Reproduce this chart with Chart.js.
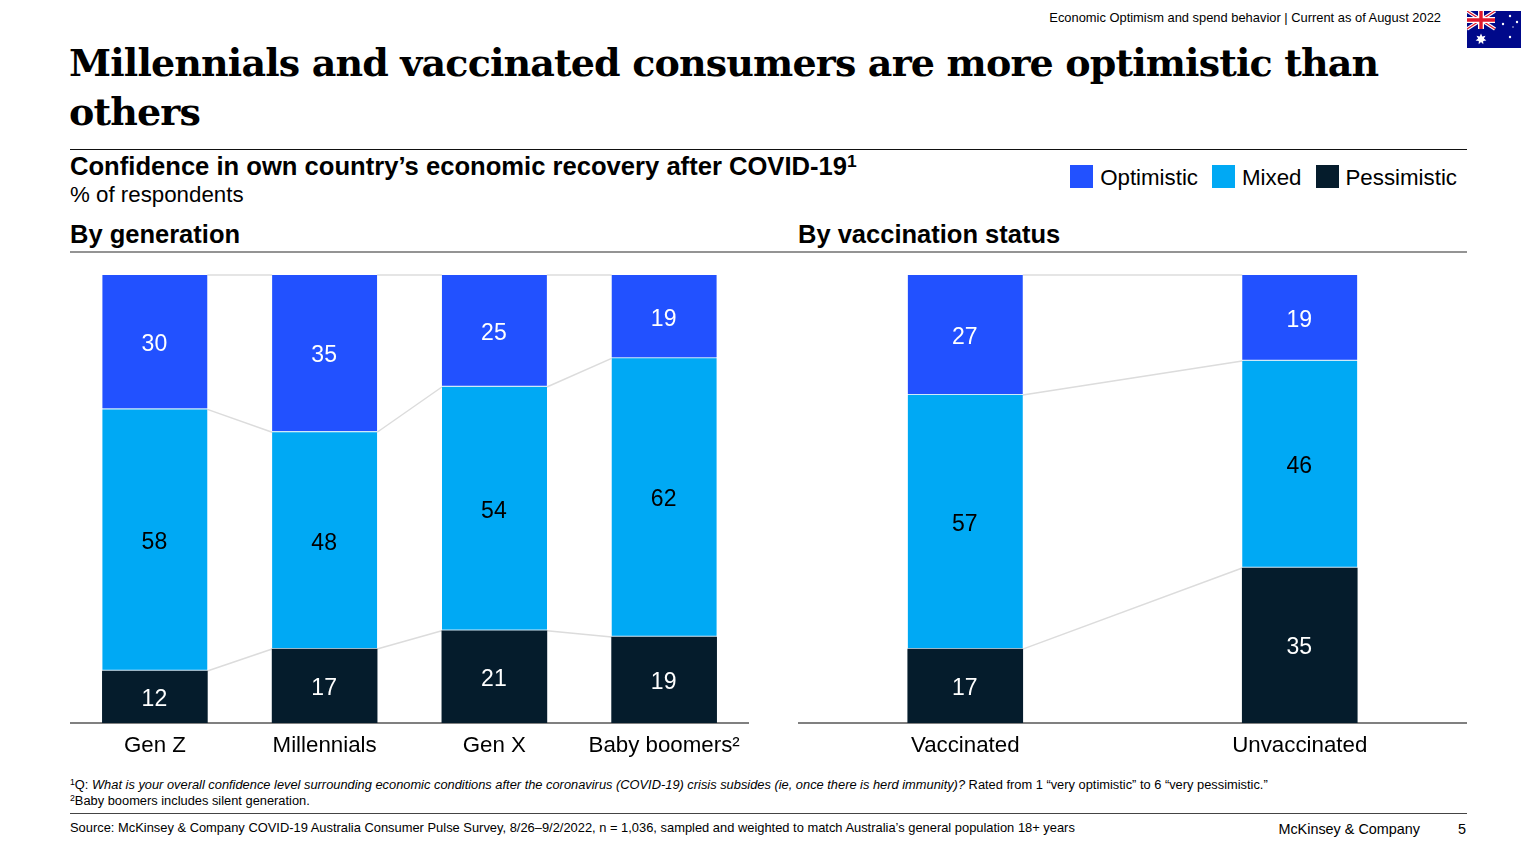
<!DOCTYPE html>
<html>
<head>
<meta charset="utf-8">
<script src="https://cdn.jsdelivr.net/npm/chart.js@4"></script>
<style>
	html, body {margin: 0; padding: 0; background: #fff;}
	body {position: relative; width: 1536px; height: 864px; overflow: hidden; font-family: "Liberation Sans", Arial, sans-serif; color: #000;}
	.txt {position: absolute; white-space: nowrap;}
	.rule {position: absolute; left: 70px; width: 1397px;}
	canvas {position: absolute;}
	sup {font-size: 68%; line-height: 0; vertical-align: baseline; position: relative; top: -0.45em;}
	#legend {position: absolute; top: 166px; right: 79px; display: flex; font-size: 22.3px; line-height: 24px;}
	#legend span.item {display: flex; align-items: center; margin-left: 14px;}
	#legend i {display: inline-block; width: 23px; height: 23px; margin-right: 7px; position: relative; top: -2px;}
</style>
</head>
<body>
<div class="txt" style="right:95px;top:10px;font-size:12.9px;line-height:16px;">Economic Optimism and spend behavior | Current as of August 2022</div>
<svg style="position:absolute;left:1467px;top:11px;" width="54" height="37" viewBox="0 0 54 37">
	<rect width="54" height="37" fill="#00098a"/>
	<path d="M0 0L28 18M28 0L0 18" stroke="#fff" stroke-width="3.5"/>
	<path d="M0 0L28 18M28 0L0 18" stroke="#e0192d" stroke-width="1.2"/>
	<path d="M14 0V18M0 9H28" stroke="#fff" stroke-width="6"/>
	<path d="M14 0V18M0 9H28" stroke="#e0192d" stroke-width="3.4"/>
	<g fill="#fff">
		<path d="M14 22.5l1.3 3 3.2-.8-1.6 2.9 2.5 2-3.2.5.1 3.2-2.3-2.3-2.3 2.3.1-3.2-3.2-.5 2.5-2-1.6-2.9 3.2.8z"/>
		<circle cx="43" cy="5" r="1.2"/><circle cx="36" cy="13" r="1.2"/>
		<circle cx="50" cy="11" r="1.2"/><circle cx="43" cy="26" r="1.2"/><circle cx="46" cy="16" r="0.7"/>
	</g>
</svg>
<div id="title" class="txt" style="left:69px;top:38px;font-family:'DejaVu Serif',serif;font-weight:bold;font-size:38px;line-height:49px;letter-spacing:-0.85px;">Millennials and vaccinated consumers are more optimistic than<br>others</div>
<div class="rule" style="top:149px;height:1px;background:#111;"></div>
<div class="txt" style="left:70px;top:151px;font-size:25.6px;line-height:30px;font-weight:bold;">Confidence in own country’s economic recovery after COVID-19<sup>1</sup></div>
<div class="txt" style="left:70px;top:181px;font-size:22.3px;line-height:27px;">% of respondents</div>
<div id="legend"></div>
<div class="txt" style="left:70px;top:219px;font-size:25.5px;line-height:30px;font-weight:bold;">By generation</div>
<div class="txt" style="left:798px;top:219px;font-size:25.5px;line-height:30px;font-weight:bold;">By vaccination status</div>
<div class="rule" style="top:251px;height:2px;background:#949494;"></div>
<canvas id="genChart" style="left:70px;top:265px;"></canvas>
<canvas id="vacChart" style="left:798px;top:265px;"></canvas>
<div class="txt" style="left:70px;top:777px;font-size:12.85px;line-height:16px;"><sup>1</sup>Q: <em>What is your overall confidence level surrounding economic conditions after the coronavirus (COVID-19) crisis subsides (ie, once there is herd immunity)?</em> Rated from 1 “very optimistic” to 6 “very pessimistic.”</div>
<div class="txt" style="left:70px;top:793px;font-size:12.85px;line-height:16px;"><sup>2</sup>Baby boomers includes silent generation.</div>
<div class="rule" style="top:813px;height:1px;background:#444;"></div>
<div class="txt" style="left:70px;top:820px;font-size:12.9px;line-height:16px;">Source: McKinsey &amp; Company COVID-19 Australia Consumer Pulse Survey, 8/26–9/2/2022, n = 1,036, sampled and weighted to match Australia’s general population 18+ years</div>
<div class="txt" style="right:116px;top:821px;font-size:14.4px;line-height:17px;">McKinsey &amp; Company</div>
<div class="txt" style="right:70px;top:821px;font-size:14.4px;line-height:17px;">5</div>
<script>
'use strict';

const seriesNames = ['Pessimistic', 'Mixed', 'Optimistic'];
const seriesColours = ['#051C2C', '#00A9F4', '#2251FF'];
const labelColours = ['#fff', '#000', '#fff'];

//unrounded shares, they round to the printed labels
const genCategories = ['Gen Z', 'Millennials', 'Gen X', 'Baby boomers²'];
const genPessimistic = [11.6, 16.5, 20.6, 19.2];
const genMixed = [58.4, 48.4, 54.4, 62.2];
const genOptimistic = [30.0, 35.1, 25.0, 18.6];

const vacCategories = ['Vaccinated', 'Unvaccinated'];
const vacPessimistic = [16.5, 34.6];
const vacMixed = [56.7, 46.2];
const vacOptimistic = [26.8, 19.2];

const FONT = '"Liberation Sans", Arial, sans-serif';

/** Draws the rounded value in the middle of each bar segment. */
const segmentLabels = {
	id: 'segmentLabels',
	afterDatasetsDraw: chart => {
		const {ctx} = chart;
		ctx.save();
		ctx.font = `23px ${FONT}`;
		ctx.textAlign = 'center';
		ctx.textBaseline = 'middle';
		chart.data.datasets.forEach((dataset, dsIdx) => {
			chart.getDatasetMeta(dsIdx).data.forEach((bar, idx) => {
				ctx.fillStyle = labelColours[dsIdx];
				ctx.fillText(Math.round(dataset.data[idx]), bar.x - 0.5, (bar.y + bar.base) / 2 + 2.5);
			});
		});
		ctx.restore();
	}
};

/** Draws the thin connectors between the segment tops of neighbouring bars. */
const connectors = {
	id: 'connectors',
	beforeDatasetsDraw: chart => {
		const {ctx} = chart;
		ctx.save();
		ctx.strokeStyle = '#dcdcdc';
		ctx.lineWidth = 1.5;
		chart.data.datasets.forEach((dataset, dsIdx) => {
			const bars = chart.getDatasetMeta(dsIdx).data;
			for (let idx = 0; idx < bars.length - 1; ++idx) {
				ctx.beginPath();
				ctx.moveTo(bars[idx].x + bars[idx].width / 2, bars[idx].y);
				ctx.lineTo(bars[idx + 1].x - bars[idx + 1].width / 2, bars[idx + 1].y);
				ctx.stroke();
			}
		});
		ctx.restore();
	}
};

function buildChart(id, categories, values, width, barWidth) {
	const canvas = document.getElementById(id);
	canvas.width = width;
	canvas.height = 503;
	canvas.style.width = width + 'px';
	canvas.style.height = '503px';
	return new Chart(canvas, {
		type: 'bar',
		data: {
			labels: categories,
			datasets: values.map((data, idx) => ({
				label: seriesNames[idx],
				data: data,
				backgroundColor: seriesColours[idx],
				borderColor: '#cfe9f8',
				borderWidth: idx ? {bottom: 1.5} : 0,
				borderSkipped: false,
				barThickness: barWidth
			}))
		},
		options: {
			animation: false,
			responsive: false,
			devicePixelRatio: 1,
			layout: {padding: {top: 10}},
			plugins: {legend: {display: false}, tooltip: {enabled: false}},
			scales: {
				x: {
					stacked: true,
					grid: {display: false},
					border: {color: '#808080', width: 2},
					ticks: {color: '#000', font: {family: FONT, size: 22.3}, padding: 1, maxRotation: 0, autoSkip: false},
					afterFit: scale => { scale.height = 45; }
				},
				y: {stacked: true, display: false, min: 0, max: 100}
			}
		},
		plugins: [connectors, segmentLabels]
	});
}

buildChart('genChart', genCategories, [genPessimistic, genMixed, genOptimistic], 679, 105);
buildChart('vacChart', vacCategories, [vacPessimistic, vacMixed, vacOptimistic], 669, 115);

//legend reads left to right from the top of the stack down
const legend = document.getElementById('legend');
for (let idx = seriesNames.length - 1; idx >= 0; --idx) {
	const item = document.createElement('span');
	item.className = 'item';
	const swatch = document.createElement('i');
	swatch.style.background = seriesColours[idx];
	item.appendChild(swatch);
	item.appendChild(document.createTextNode(seriesNames[idx]));
	legend.appendChild(item);
}
</script>
</body>
</html>
